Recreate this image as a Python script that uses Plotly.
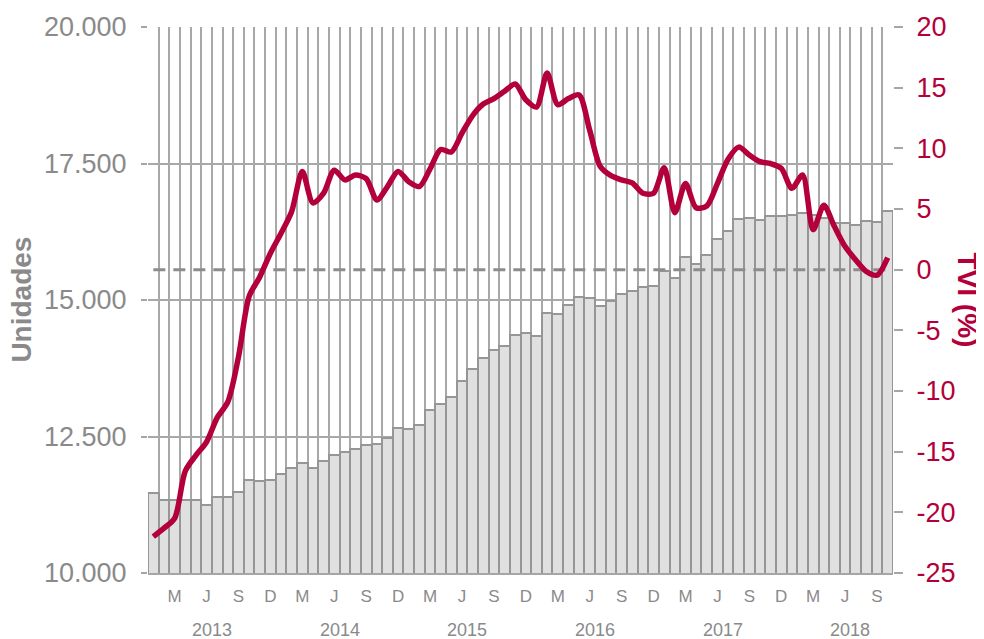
import plotly.graph_objects as go

# monthly series, Jan 2013 -> Oct 2018
unidades = [
    11460, 11337, 11330, 11337, 11337, 11240, 11385, 11385, 11490, 11705, 11685, 11705,
    11810, 11917, 12015, 11917, 12045, 12167, 12222, 12266, 12339, 12368, 12467, 12661,
    12635, 12711, 12985, 13089, 13217, 13511, 13736, 13938, 14084, 14157, 14353, 14390,
    14335, 14756, 14738, 14914, 15061, 15031, 14884, 14982, 15104, 15159, 15232, 15256,
    15525, 15408, 15782, 15654, 15830, 16111, 16264, 16484, 16508, 16459, 16532, 16532,
    16557, 16587, 16550, 16496, 16416, 16404, 16380, 16453, 16435, 16630,
]
tvi = [
    -22.0, -21.3, -20.5, -16.6, -15.3, -14.2, -12.2, -10.9, -7.2, -2.2, -0.6, 1.35,
    3.0, 4.8, 8.1, 5.5, 6.3, 8.2, 7.4, 7.8, 7.5, 5.75, 6.85, 8.1,
    7.25, 6.85, 8.3, 9.9, 9.7, 11.25, 12.7, 13.65, 14.1, 14.7, 15.3, 14.0,
    13.4, 16.2, 13.6, 14.1, 14.4, 11.5, 8.5, 7.75, 7.4, 7.15, 6.3, 6.3,
    8.4, 4.7, 7.1, 5.1, 5.25, 7.1, 9.1, 10.1, 9.45, 8.9, 8.75, 8.35,
    6.7, 7.8, 3.3, 5.3, 3.55, 1.9, 0.8, -0.15, -0.45, 1.0,
]
month_labels = ["M", "J", "S", "D"]
years = ["2013", "2014", "2015", "2016", "2017", "2018"]
left_ticks = [10000, 12500, 15000, 17500, 20000]
left_text = ["10.000", "12.500", "15.000", "17.500", "20.000"]
right_ticks = [-25, -20, -15, -10, -5, 0, 5, 10, 15, 20]

GRAY = "#8a8a8a"
RED = "#b4003a"
GRID = "#a8a8a8"

n = len(unidades)
x = list(range(n))
tick_pos = [i for i in x if i % 3 == 2]
tick_txt = [month_labels[(i // 3) % 4] for i in tick_pos]

fig = go.Figure()
fig.add_trace(go.Bar(
    x=x, y=unidades, width=1,
    marker=dict(color="#e0e0e0", line=dict(color="#969696", width=2)),
    name="Unidades",
))
fig.add_trace(go.Scatter(
    x=[0, n - 0.5], y=[0, 0], yaxis="y2", mode="lines",
    line=dict(color="#8c8c8c", width=3, dash="12px,8px"),
))
fig.add_trace(go.Scatter(
    x=x, y=tvi, yaxis="y2", mode="lines",
    line=dict(color=RED, width=5.5, shape="spline", smoothing=0.8),
    name="TVI",
))

# page body has an 8px margin, so the margins are shifted by that amount
fig.update_layout(
    width=984, height=639,
    margin=dict(l=140, r=99, t=19, b=74),
    plot_bgcolor="white", paper_bgcolor="white",
    showlegend=False, bargap=0,
    font=dict(family="Liberation Sans, Arial, sans-serif", color=GRAY),
    xaxis=dict(
        range=[-0.5, n - 0.5], automargin=False,
        tickmode="array", tickvals=tick_pos, ticktext=tick_txt,
        tickfont=dict(size=17, color=GRAY),
        ticks="outside", ticklen=7, tickcolor="rgba(0,0,0,0)",
        showgrid=False, zeroline=False,
        showline=True, linecolor="#a6a6a6", linewidth=2,
        minor=dict(tick0=-0.5, dtick=1, showgrid=True, gridcolor=GRID, gridwidth=1.5),
    ),
    yaxis=dict(
        range=[10000, 20000], automargin=False,
        tickvals=left_ticks, ticktext=left_text,
        tickfont=dict(size=27, color=GRAY),
        ticks="outside", ticklen=6, tickcolor="#a6a6a6", tickwidth=1.5,
        ticklabelstandoff=9,
        showgrid=True, gridcolor=GRID, gridwidth=1.5, zeroline=False,
    ),
    yaxis2=dict(
        range=[-25, 20], overlaying="y", side="right", automargin=False,
        tickvals=right_ticks, ticktext=[str(v) for v in right_ticks],
        tickfont=dict(size=27, color=RED),
        ticks="outside", ticklen=9, tickcolor="#a6a6a6", tickwidth=1.5,
        ticklabelstandoff=8,
        showgrid=False, zeroline=False,
    ),
)

annotations = [
    dict(text=yr, x=5.5 + 12 * k, xref="x", y=-0.105, yref="paper",
         showarrow=False, font=dict(size=18, color=GRAY), yanchor="middle")
    for k, yr in enumerate(years)
]
annotations.append(dict(
    text="<b>Unidades</b>", x=-0.171, xref="paper", y=0.5, yref="paper",
    xanchor="center", yanchor="middle", borderpad=0,
    textangle=-90, showarrow=False, font=dict(size=28, color=GRAY),
))
annotations.append(dict(
    text="<b>TVI (%)</b>", x=1.1, xref="paper", y=0.5, yref="paper",
    xanchor="center", yanchor="middle",
    textangle=90, showarrow=False, font=dict(size=28, color=RED),
))
fig.update_layout(annotations=annotations)

fig.write_html("out.html")
